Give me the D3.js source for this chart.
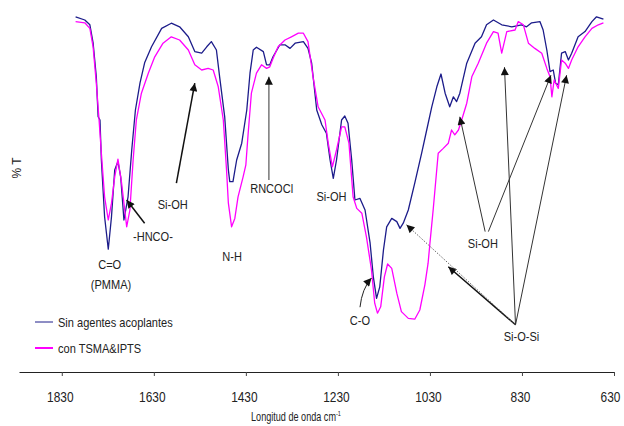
<!DOCTYPE html>
<html lang="es">
<head>
<meta charset="UTF-8">
<title>Espectro IR</title>
<script src="https://d3js.org/d3.v7.min.js"></script>
<style>
  body { margin: 0; background: #fff; }
  svg text { font-family: "Liberation Sans", Arial, sans-serif; fill: #222; }
</style>
</head>
<body>
<svg id="chart" width="624" height="426"></svg>
<script>
// número de onda (cm-1) y %T
const onda1 = [1800,1780,1769,1762,1755,1751,1747,1744,1737,1729,1722,1715,1708,1702,1695,1686,1678,1670,1660,1650,
  1635,1613,1592,1574,1555,1541,1526,1515,1505,1494,1487,1476,1468,1465,1458,1450,1439,1428,1421,1414,
  1407,1392,1385,1378,1371,1356,1345,1334,1323,1305,1295,1287,1276,1265,1255,1247,1240,1233,1222,1215,
  1208,1200,1193,1182,1171,1160,1153,1146,1139,1131,1124,1113,1102,1095,1088,1077,1063,1048,1037,1026,
  1015,1006,997,987,979,972,965,950,932,918,907,892,874,852,831,820,809,791,784,776,
  769,762,757,751,744,736,729,722,708,693,678,668,653];
const sinAgentes = [88.8,88,86.8,82.3,73.8,63.8,63,53,38.8,30.7,38.8,50.5,52.6,48.8,38,43.8,55.5,65.5,72.3,77.3,
  81.3,85.9,87.2,86.3,83.8,80.1,79.7,81.3,82.6,80.5,73.8,63.8,50.5,47.6,47.6,53,57.2,65.5,74.7,80.5,
  81.2,80.1,76.8,76.8,78.8,81.8,81.8,80.9,82.2,82.6,80.9,77.2,65.5,61.8,59.7,53,48.4,53,63,64,
  62.2,53,43,43.4,40.5,32.2,23.8,18.4,21.3,30.5,36.3,38.4,37.6,35.9,37.2,40.5,47.2,54.7,60.5,66.3,
  71.3,74.5,69.7,66.3,68.8,67.6,69.7,77.2,82.2,83.8,86.8,88,86.8,86.3,86.8,86.3,87.3,87.6,85.5,80.5,
  75.1,75.5,72.2,71.8,79.7,80.1,78,79.7,83.8,85.1,87.6,88.8,88.2];

const onda2 = [1800,1780,1769,1762,1755,1749,1744,1737,1729,1722,1715,1708,1700,1689,1682,1675,1668,1657,1642,1628,
  1610,1592,1574,1555,1541,1526,1512,1501,1490,1479,1472,1468,1461,1454,1447,1436,1430,1425,1418,1407,
  1396,1385,1378,1371,1360,1345,1331,1316,1305,1295,1284,1273,1258,1251,1242,1233,1222,1215,1206,1197,
  1189,1178,1168,1157,1150,1144,1137,1129,1122,1113,1102,1092,1077,1063,1052,1041,1034,1030,1023,1012,
  1001,990,983,976,968,961,950,939,925,907,892,882,874,863,845,838,827,816,802,787,
  776,769,765,760,751,744,736,729,722,708,693,678,664,653];
const conTsma = [87.6,87.3,85.9,81.3,72.2,63,54.7,43.8,38,42.2,48.8,53.2,47.2,36.3,40.5,53,63,69.7,74.7,78.8,
  82.2,83.8,83,80.5,76.8,75.5,75.9,75.5,71.3,63,50.5,42.2,36.3,38.4,43.8,48.8,51.8,59.7,69.7,74.7,
  76.8,75.9,76.3,78.4,81.3,83,83.8,84.7,84.7,82.6,73.8,66.3,63,57.2,51.3,55.5,61.3,61.3,57.2,43.8,
  40.9,39.7,33.8,25.5,17.2,14.7,16.3,23.8,27,25.9,19.7,15.1,13.4,13.2,15.5,21.8,27.2,32.2,40.5,54.7,
  55.9,57.2,60.5,59.3,60.5,63,67.2,73.8,77.2,82.2,85.1,84.7,79.7,85.1,85.5,87.6,86.8,82.2,80.9,79.7,
  75.9,73.8,68.8,73,70.9,78,77.2,75.9,78,81.3,83.8,85.9,86.8,87.3];

const ticksOnda = [1830, 1630, 1430, 1230, 1030, 830, 630];

// etiquetas de bandas: texto, número de onda, %T
const etiquetas = [
  ["C=O", 1726, 26.8], ["(PMMA)", 1723, 22], ["-HNCO-", 1632, 33.8], ["Si-OH", 1589, 41.8],
  ["N-H", 1460, 28.9], ["RNCOCl", 1374, 45.9], ["Si-OH", 1244, 44], ["C-O", 1182, 13],
  ["Si-OH", 915, 32.2], ["Si-O-Si", 831, 8.8]
];
// flechas: desde [onda, %T] hasta [onda, %T], tipo
const flechas = [
  [1650, 37.2, 1689, 43, "negra"],
  [1581, 47.2, 1541, 72.2, "negra"],
  [1380, 48, 1380, 73.8, "gris"],
  [1182, 16.2, 1157, 23.5, "curva"],
  [910, 35.1, 965, 63.8, "fina"],
  [903, 35.1, 767, 74.2, "fina"],
  [844, 11.8, 868, 76.2, "fina"],
  [844, 11.8, 733, 74.2, "fina"],
  [844, 11.8, 990, 26.3, "negra"],
  [844, 11.8, 1081, 36.8, "punteada"]
];

const series = [
  {nombre: "Sin agentes acoplantes", x: onda1, y: sinAgentes, color: "#1c1c8a", ancho: 1},
  {nombre: "con TSMA&IPTS", x: onda2, y: conTsma, color: "#ff00ff", ancho: 2}
];

const estrecho = 0.85; // letra estrecha, como en el original

const svg = d3.select("#chart");
const x = d3.scaleLinear().domain([1923, 630]).range([19, 614]);
const y = d3.scaleLinear().domain([0, 90]).range([372, 12]);

// texto estrecho en (px, py)
function texto(px, py, t, size, anchor, esc) {
  return svg.append("text")
    .attr("transform", `translate(${px},${py}) scale(${esc || estrecho},1)`)
    .attr("text-anchor", anchor || "middle")
    .attr("font-size", size)
    .text(t);
}

// eje x
const ejeX = svg.append("g")
  .attr("transform", "translate(0,372)")
  .call(d3.axisBottom(x).tickValues(ticksOnda).tickFormat(d3.format("d"))
    .tickSizeInner(4).tickSizeOuter(0).tickPadding(16));
ejeX.select(".domain").attr("stroke", "#222");
ejeX.selectAll(".tick line").attr("stroke", "#444");
ejeX.selectAll("text")
  .attr("font-size", "14px").attr("font-family", null)
  .attr("transform", d => `translate(${d === 630 ? -4 : -2},0) scale(${estrecho},1)`);

const titulo = texto(296, 421, "Longitud de onda cm", "13px", "middle", 0.7);
titulo.append("tspan").attr("dy", -5).attr("font-size", "8px").text("-1");

svg.append("text")
  .attr("transform", "translate(21,168) rotate(-90)")
  .attr("text-anchor", "middle")
  .attr("font-size", "12px")
  .text("% T");

// curvas
const linea = d3.line();
series.forEach(s => {
  svg.append("path")
    .datum(s.x.map((d, i) => [x(d), y(s.y[i])]))
    .attr("fill", "none")
    .attr("stroke", s.color)
    .attr("stroke-width", 1.3)
    .attr("stroke-linejoin", "round")
    .attr("d", linea);
});

// puntas de flecha
const defs = svg.append("defs");
defs.append("marker")
  .attr("id", "punta")
  .attr("viewBox", "0 0 10 10")
  .attr("refX", 10).attr("refY", 5)
  .attr("markerWidth", 9).attr("markerHeight", 8)
  .attr("markerUnits", "userSpaceOnUse")
  .attr("orient", "auto")
  .append("path").attr("d", "M0,0L10,5L0,10Z").attr("fill", "#111");

const estilos = {
  negra: {color: "#111", ancho: 1.5, guion: null},
  gris: {color: "#777", ancho: 1.5, guion: null},
  fina: {color: "#333", ancho: 1, guion: null},
  curva: {color: "#222", ancho: 1, guion: null},
  punteada: {color: "#666", ancho: 1, guion: "1.5,1.5"}
};

flechas.forEach(f => {
  const e = estilos[f[4]];
  const x0 = x(f[0]), y0 = y(f[1]), x1 = x(f[2]), y1 = y(f[3]);
  let d = `M${x0},${y0}L${x1},${y1}`;
  if (f[4] === "curva") d = `M${x0},${y0}Q${x0 + 2},${(y0 + y1) / 2 - 4} ${x1},${y1}`;
  svg.append("path")
    .attr("d", d)
    .attr("fill", "none")
    .attr("stroke", e.color)
    .attr("stroke-width", e.ancho)
    .attr("stroke-dasharray", e.guion)
    .attr("marker-end", "url(#punta)");
});

etiquetas.forEach(d => {
  texto(x(d[1]), y(d[2]), d[0], "13px").attr("dy", "0.35em");
});

// leyenda
series.forEach((s, i) => {
  const yy = 322 + i * 26;
  svg.append("line")
    .attr("x1", 35).attr("x2", 53).attr("y1", yy).attr("y2", yy)
    .attr("stroke", s.color).attr("stroke-width", s.ancho);
  texto(58, yy, s.nombre, "13px", "start").attr("dy", "0.35em");
});
</script>
</body>
</html>
